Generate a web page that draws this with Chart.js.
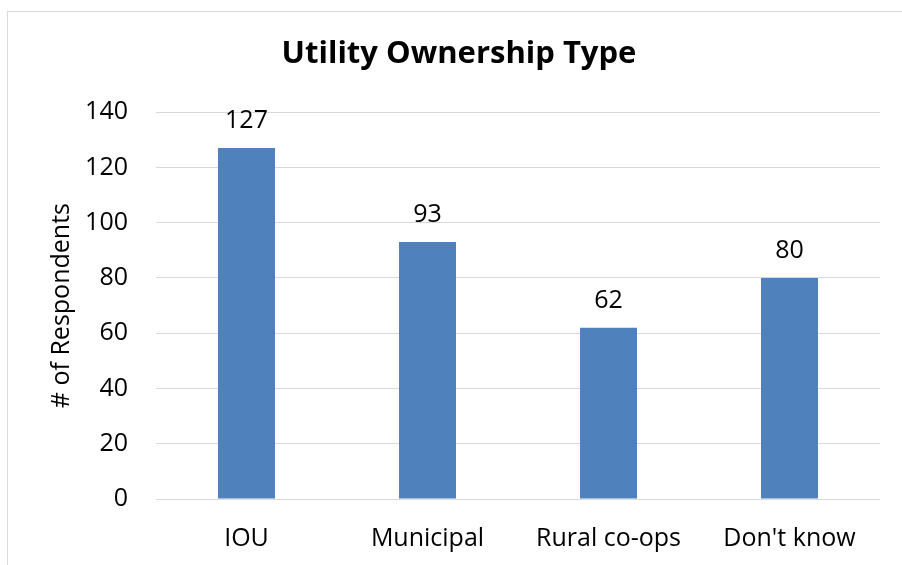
<!DOCTYPE html>
<html>
<head>
<meta charset="utf-8">
<script src="https://cdn.jsdelivr.net/npm/chart.js@4.4.0/dist/chart.umd.min.js"></script>
<style>
  body { margin: 0; background: #fff; }
  #wrap { position: relative; width: 902px; height: 565px; }
  #frame { position: absolute; left: 7px; top: 11px; right: 0; bottom: 0;
           border-left: 1px solid #d9d9d9; border-top: 1px solid #d9d9d9; }
  canvas { position: absolute; left: 0; top: 0; }
</style>
</head>
<body>
<div id="wrap">
  <div id="frame"></div>
  <canvas id="chart" width="902" height="565"></canvas>
</div>
<script>
// datos
var categorias = ["IOU", "Municipal", "Rural co-ops", "Don't know"];
var respuestas = [127, 93, 62, 80];
var marcasY = [0, 20, 40, 60, 80, 100, 120, 140];

var fuente = "'Open Sans', 'DejaVu Sans', sans-serif";

// etiquetas encima de cada barra
var etiquetasBarras = {
    id: "etiquetasBarras",
    afterDatasetsDraw: function (chart) {
        var ctx = chart.ctx;
        var meta = chart.getDatasetMeta(0);
        ctx.save();
        ctx.fillStyle = "#000";
        ctx.font = "25px " + fuente;
        ctx.textAlign = "center";
        ctx.textBaseline = "alphabetic";
        meta.data.forEach(function (barra, i) {
            ctx.fillText(String(respuestas[i]), barra.x, barra.y - 20);
        });
        ctx.restore();
    }
};

var ctx = document.getElementById("chart").getContext("2d");
var chart = new Chart(ctx, {
    type: "bar",
    data: {
        labels: categorias,
        datasets: [{
            label: "# of Respondents",
            data: respuestas,
            backgroundColor: "#4f81bd",
            barPercentage: 0.315,
            categoryPercentage: 1
        }]
    },
    options: {
        responsive: false,
        animation: false,
        layout: { padding: { left: 38, right: 22, top: 0, bottom: 0 } },
        plugins: {
            legend: { display: false },
            tooltip: { enabled: false },
            title: {
                display: true,
                text: "Utility Ownership Type",
                color: "#000",
                font: { family: fuente, size: 31, weight: "bold" },
                padding: { top: 36, bottom: 39 }
            }
        },
        scales: {
            x: {
                grid: { display: false },
                border: { display: false },
                ticks: { color: "#000", font: { family: fuente, size: 25 }, padding: 17 },
                afterFit: function (s) { s.height = 66; }
            },
            y: {
                min: 0,
                max: 140,
                afterBuildTicks: function (s) {
                    s.ticks = marcasY.map(function (v) { return { value: v }; });
                },
                grid: { color: "#d9d9d9", lineWidth: 1, drawTicks: false },
                border: { display: false },
                ticks: { color: "#000", font: { family: fuente, size: 25 }, padding: 28 },
                title: {
                    display: true,
                    text: "# of Respondents",
                    color: "#000",
                    font: { family: fuente, size: 25 },
                    padding: { top: 9, bottom: 0 }
                },
                afterFit: function (s) { s.width = 118; }
            }
        }
    },
    plugins: [etiquetasBarras]
});
</script>
</body>
</html>
